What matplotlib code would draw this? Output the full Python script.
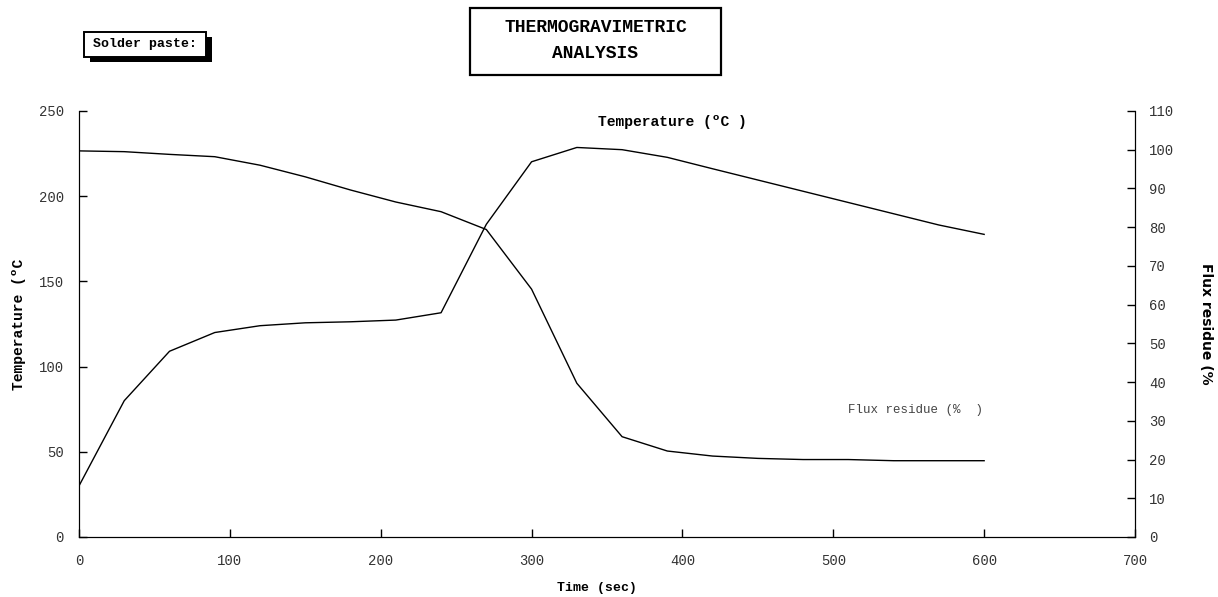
import matplotlib
matplotlib.use("Agg")
from matplotlib import pyplot as plt
from matplotlib.patches import Rectangle

# time axis (sec)
time_s = [0, 30, 60, 90, 120, 150, 180, 210, 240, 270, 300, 330, 360, 390, 420, 450, 480, 510, 540, 570, 600]

# oven temperature (deg C), left axis
temperature = [30, 80, 109, 120, 124, 125.7, 126.3, 127.3, 131.6, 183.5, 220.2, 228.6, 227.3, 222.8,
               216.1, 209.5, 202.9, 196.3, 189.7, 183.1, 177.6]

# flux residue (%), right axis
flux_residue = [99.7, 99.5, 98.8, 98.2, 96.0, 93.0, 89.6, 86.5, 84.0, 79.4, 64.0, 39.7, 25.9, 22.2,
                20.9, 20.3, 20.0, 20.0, 19.7, 19.7, 19.7]

x_ticks = [0, 100, 200, 300, 400, 500, 600, 700]
left_ticks = [0, 50, 100, 150, 200, 250]
right_ticks = list(range(0, 111, 10))

mono = "Liberation Mono"
tick_color = "#333333"

W, H = 1218, 597
fig = plt.figure(figsize=(W / 100, H / 100), dpi=100)
ax = fig.add_axes([79 / W, 1 - 537 / H, 1056 / W, 426 / H])
ax2 = ax.twinx()

ax.plot(time_s, temperature, color="black", lw=1.0)
ax2.plot(time_s, flux_residue, color="black", lw=1.0)

ax.set_xlim(0, 700)
ax.set_ylim(0, 250)
ax2.set_ylim(0, 110)

for a in (ax, ax2):
    a.spines["top"].set_visible(False)
    a.patch.set_visible(False)

ax.set_xticks(x_ticks)
ax.set_yticks(left_ticks)
ax2.set_yticks(right_ticks)

ax.tick_params(axis="x", direction="in", length=6, width=1, pad=12, labelsize=10,
               labelcolor=tick_color, labelfontfamily=mono)
ax.tick_params(axis="y", direction="in", length=6, width=1, pad=11, labelsize=10,
               labelcolor=tick_color, labelfontfamily=mono)
ax2.tick_params(axis="y", direction="in", length=6, width=1, pad=10, labelsize=10,
                labelcolor=tick_color, labelfontfamily=mono)

ax.set_xlabel("Time (sec)", fontfamily=mono, fontweight="bold", fontsize=9.5)
ax.xaxis.set_label_coords(0.4905, -0.12)
ax.xaxis.label.set_va("center")

ax.set_ylabel("Temperature (ºC", fontfamily=mono, fontweight="bold", fontsize=10.5)
ax.yaxis.set_label_coords(-0.0565, 0.5)
ax.yaxis.label.set_va("center")

ax2.set_ylabel("Flux residue (%", fontfamily="DejaVu Sans", fontweight="bold", fontsize=10,
               rotation=-90)
ax2.yaxis.set_label_coords(1.067, 0.5)
ax2.yaxis.label.set_va("center")

# series labels
ax.text(0.5616, 0.974, "Temperature (ºC )", transform=ax.transAxes, ha="center", va="center",
        fontfamily=mono, fontweight="bold", fontsize=10.5)
ax.text(0.7926, 0.298, "Flux residue (%  )", transform=ax.transAxes, ha="center", va="center",
        fontfamily=mono, fontsize=9, color="#444444")

# title box
fig.patches.append(Rectangle((470 / W, 1 - 75 / H), 251 / W, 67 / H, transform=fig.transFigure,
                             facecolor="white", edgecolor="black", lw=1.6))
fig.text(595.5 / W, 1 - 27 / H, "THERMOGRAVIMETRIC", ha="center", va="center",
         fontfamily=mono, fontweight="bold", fontsize=13)
fig.text(595.5 / W, 1 - 53 / H, "ANALYSIS", ha="center", va="center",
         fontfamily=mono, fontweight="bold", fontsize=13)

# "Solder paste:" box with drop shadow
fig.patches.append(Rectangle((90 / W, 1 - 62 / H), 122 / W, 25 / H, transform=fig.transFigure,
                             facecolor="black", edgecolor="none"))
fig.patches.append(Rectangle((84 / W, 1 - 57 / H), 122 / W, 25 / H, transform=fig.transFigure,
                             facecolor="white", edgecolor="black", lw=1.4))
fig.text(145 / W, 1 - 44.5 / H, "Solder paste:", ha="center", va="center",
         fontfamily=mono, fontweight="bold", fontsize=9.5)

fig.savefig("out.png", dpi=100)
